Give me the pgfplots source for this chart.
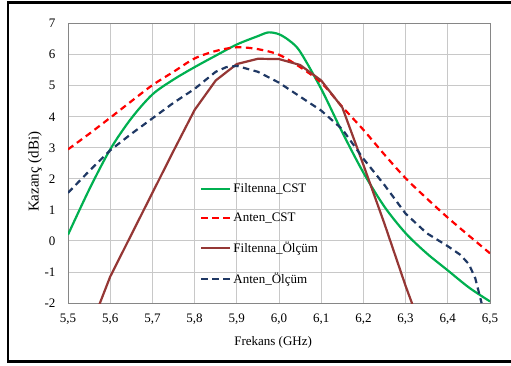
\documentclass[border=0pt]{standalone}
\usepackage{pgfplots}
\pgfplotsset{compat=1.18}
\usepackage{fontspec}
\setmainfont{Liberation Serif}
\definecolor{cgreen}{HTML}{00B050}
\definecolor{cred}{HTML}{FF0000}
\definecolor{cbrown}{HTML}{953735}
\definecolor{cnavy}{HTML}{1F3864}
\definecolor{cgrid}{HTML}{C8C8C8}
\definecolor{caxis}{HTML}{868686}
\newcommand{\ff}{\fontsize{13bp}{15bp}\selectfont}
\begin{document}
\begin{tikzpicture}[x=1bp,y=1bp]
\useasboundingbox (0,0) rectangle (511,365);
\draw[line width=2.5bp] (8,3.5) rectangle (522,362.5);
\begin{axis}[
  at={(68bp,62bp)}, anchor=south west,
  width=422bp, height=279.3bp, scale only axis,
  xmin=5.5, xmax=6.5, ymin=-2, ymax=7,
  xtick={5.5,5.6,5.7,5.8,5.9,6.0,6.1,6.2,6.3,6.4,6.5},
  xticklabels={{5,5},{5,6},{5,7},{5,8},{5,9},{6,0},{6,1},{6,2},{6,3},{6,4},{6,5}},
  ytick={-2,-1,0,1,2,3,4,5,6,7},
  yticklabels={-2,-1,0,1,2,3,4,5,6,7},
  tick style={draw=none},
  grid=major,
  major grid style={draw=cgrid, line width=0.9bp},
  axis line style={draw=caxis, line width=0.9bp},
  tick label style={font=\ff},
  xticklabel style={yshift=-7bp},
  yticklabel style={xshift=-9bp},
  xlabel={Frekans (GHz)},
  ylabel={Kazanç (dBi)},
  label style={font=\ff},
  xlabel style={at={(axis description cs:0.486,-0.14)}, anchor=center},
  ylabel style={at={(axis description cs:-0.078,0.47)}, anchor=center, font=\fontsize{15bp}{17bp}\selectfont},
  legend style={at={(axis description cs:0.313,0.436)}, anchor=north west,
    draw=none, fill=none, font=\ff, row sep=15bp, inner sep=0pt},
  legend cell align=left,
  legend image code/.code={\draw[#1] (0bp,0bp) -- (29bp,0bp);},
  every axis plot/.append style={line width=2.2bp},
]
\addplot[cgreen, smooth, tension=0.5] coordinates {
(5.5,0.2) (5.55,1.65) (5.6,2.95) (5.65,3.95) (5.7,4.72) (5.75,5.2) (5.8,5.6)
(5.85,5.97) (5.9,6.33) (5.95,6.6) (5.975,6.72) (6.0,6.66) (6.025,6.45) (6.05,6.1)
(6.1,4.9) (6.15,3.5) (6.2,2.2) (6.25,1.1) (6.3,0.25) (6.35,-0.4) (6.4,-0.95)
(6.45,-1.5) (6.5,-1.95)};
\addlegendentry{Filtenna\_CST}
\addplot[cred, smooth, dash pattern=on 6.5bp off 4.5bp] coordinates {
(5.5,2.95) (5.55,3.45) (5.6,3.97) (5.65,4.5) (5.7,5.02) (5.75,5.45) (5.8,5.88)
(5.85,6.12) (5.9,6.24) (5.95,6.18) (6.0,6.0) (6.05,5.6) (6.1,5.1) (6.15,4.32)
(6.2,3.58) (6.25,2.78) (6.3,2.02) (6.35,1.37) (6.4,0.75) (6.45,0.17) (6.5,-0.4)};
\addlegendentry{Anten\_CST}
\addplot[cbrown] coordinates {
(5.55,-2.9) (5.6,-1.15) (5.65,0.2) (5.7,1.55) (5.75,2.9) (5.8,4.22) (5.85,5.17)
(5.9,5.7) (5.95,5.87) (6.0,5.86) (6.05,5.67) (6.1,5.17) (6.15,4.3) (6.2,2.45)
(6.25,0.55) (6.3,-1.45) (6.35,-3.3)};
\addlegendentry{Filtenna\_Ölçüm}
\addplot[cnavy, dash pattern=on 6.5bp off 4.5bp] coordinates {
(5.5,1.55) (5.55,2.25) (5.6,2.92) (5.65,3.45) (5.7,3.95) (5.75,4.45) (5.8,4.9)
(5.85,5.45) (5.875,5.6) (5.9,5.64) (5.95,5.45) (6.0,5.1) (6.05,4.65) (6.1,4.2)
(6.15,3.6) (6.2,2.65) (6.25,1.8) (6.3,0.88) (6.35,0.25) (6.4,-0.17) (6.43,-0.45)
(6.45,-0.75) (6.465,-1.2) (6.48,-2.0)};
\addlegendentry{Anten\_Ölçüm}
\end{axis}
\end{tikzpicture}
\end{document}
